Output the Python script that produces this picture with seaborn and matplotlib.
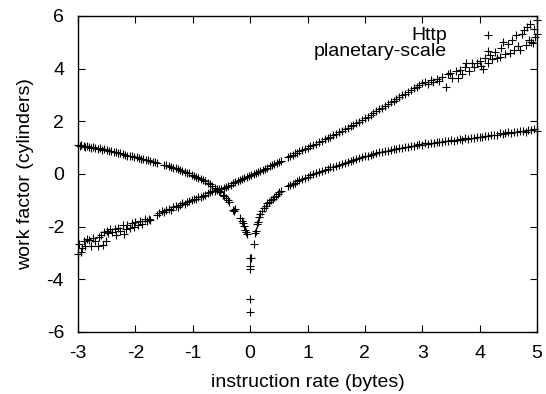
import matplotlib
matplotlib.use("Agg")
import matplotlib.pyplot as plt
import seaborn as sns
import pandas as pd

# ---- data ----
http_x = [-3.00, -2.98, -2.95, -2.93, -2.90, -2.87, -2.84, -2.80, -2.78, -2.74,
          -2.70, -2.66, -2.63, -2.60, -2.57, -2.54, -2.52, -2.50, -2.47, -2.44,
          -2.40, -2.36, -2.33, -2.30, -2.26, -2.22, -2.20, -2.17, -2.14, -2.10,
          -2.06, -2.03, -2.00, -1.96, -1.92, -1.88, -1.84, -1.80, -1.77, -1.74,
          -1.62, -1.58, -1.54, -1.50, -1.46, -1.42, -1.38, -1.34, -1.30, -1.26,
          -1.22, -1.18, -1.14, -1.10, -1.06, -1.02, -0.98, -0.94, -0.90, -0.86,
          -0.82, -0.78, -0.74, -0.70, -0.66, -0.62, -0.58, -0.54, -0.50, -0.46,
          -0.42, -0.38, -0.34, -0.30, -0.26, -0.22, -0.18, -0.14, -0.10, -0.06,
          -0.02, 0.02, 0.06, 0.10, 0.14, 0.18, 0.22, 0.26, 0.30, 0.34,
          0.38, 0.42, 0.46, 0.50, 0.54,
          0.66, 0.70, 0.74, 0.78, 0.82, 0.86, 0.90, 0.95, 1.00, 1.05,
          1.10, 1.15, 1.20, 1.25, 1.30, 1.35, 1.40, 1.45, 1.50, 1.55,
          1.60, 1.65, 1.70, 1.75, 1.80, 1.85, 1.90, 1.95, 2.00, 2.05,
          2.10, 2.15, 2.20, 2.25, 2.30, 2.35, 2.40, 2.45, 2.50, 2.55,
          2.60, 2.65, 2.70, 2.75, 2.80, 2.85, 2.90, 2.95, 3.00,
          3.05, 3.10, 3.15, 3.19, 3.25, 3.30, 3.35, 3.42, 3.45, 3.48,
          3.52, 3.58, 3.63, 3.66, 3.70, 3.74, 3.77, 3.82, 3.86, 3.90,
          3.95, 4.00, 4.03, 4.06, 4.10, 4.15, 4.18, 4.22, 4.26, 4.30,
          4.35, 4.38, 4.41, 4.45, 4.50, 4.53, 4.57, 4.60, 4.64, 4.67,
          4.70, 4.74, 4.78, 4.80, 4.82, 4.86, 4.88, 4.90, 4.93, 4.95,
          4.97, 5.00, 5.00]
http_y = [-3.05, -2.65, -2.95, -2.80, -2.55, -2.75, -2.45, -2.50, -2.75, -2.42,
          -2.55, -2.72, -2.40, -2.30, -2.68, -2.22, -2.55, -2.15, -2.25, -2.10,
          -2.20, -2.08, -2.30, -2.05, -2.15, -1.95, -2.28, -2.10, -1.92, -2.05,
          -1.85, -2.00, -1.82, -1.95, -1.78, -1.88, -1.72, -1.80, -1.70, -1.75,
          -1.55, -1.48, -1.42, -1.45, -1.38, -1.32, -1.36, -1.27, -1.22, -1.24,
          -1.16, -1.12, -1.14, -1.05, -1.02, -1.00, -0.95, -0.96, -0.88, -0.86,
          -0.82, -0.78, -0.72, -0.70, -0.66, -0.63, -0.60, -0.58, -0.56, -0.52,
          -0.48, -0.44, -0.40, -0.36, -0.32, -0.28, -0.23, -0.19, -0.15, -0.12,
          -0.08, -0.04, 0.00, 0.04, 0.08, 0.12, 0.16, 0.20, 0.24, 0.29,
          0.33, 0.37, 0.42, 0.45, 0.49,
          0.65, 0.68, 0.72, 0.78, 0.80, 0.86, 0.90, 0.95, 1.00, 1.05,
          1.12, 1.15, 1.22, 1.26, 1.32, 1.36, 1.42, 1.48, 1.52, 1.60,
          1.62, 1.70, 1.74, 1.82, 1.85, 1.93, 1.98, 2.05, 2.12, 2.18,
          2.25, 2.30, 2.38, 2.45, 2.52, 2.58, 2.65, 2.72, 2.78, 2.85,
          2.92, 3.00, 3.05, 3.12, 3.18, 3.25, 3.32, 3.38, 3.45,
          3.50, 3.40, 3.58, 3.50, 3.62, 3.55, 3.70, 3.32, 3.78, 3.82,
          3.65, 3.90, 3.63, 3.95, 3.80, 4.05, 4.20, 3.92, 4.20, 4.05,
          4.20, 4.30, 4.10, 4.00, 4.40, 4.20, 4.52, 4.35, 4.62, 4.40,
          4.45, 4.80, 5.02, 4.55, 4.95, 4.58, 5.10, 4.70, 5.28, 4.85,
          4.71, 5.30, 5.45, 4.90, 5.59, 5.10, 5.70, 5.03, 4.97, 5.50,
          5.20, 5.85, 5.30]

planetary_x = [-3.00, -2.97, -2.94, -2.90, -2.87, -2.84, -2.80, -2.77, -2.74, -2.70,
               -2.66, -2.62, -2.58, -2.54, -2.50, -2.46, -2.42, -2.38, -2.34, -2.30,
               -2.26, -2.22, -2.18, -2.14, -2.10, -2.06, -2.02, -1.98, -1.94, -1.90,
               -1.86, -1.82, -1.78, -1.74, -1.70, -1.66, -1.62,
               -1.50, -1.46, -1.42, -1.38, -1.34, -1.30, -1.26, -1.22, -1.18, -1.14,
               -1.10, -1.06, -1.02, -0.98, -0.94, -0.90, -0.86, -0.82, -0.78, -0.74,
               -0.70, -0.66, -0.62, -0.58, -0.55, -0.52, -0.48, -0.45, -0.42, -0.38,
               -0.36, -0.30, -0.28, -0.26, -0.17, -0.15, -0.13, -0.11, -0.09, -0.07,
               -0.05, 0.00, 0.02, -0.01, -0.01, 0.00, 0.00,
               0.07, 0.09, 0.10, 0.12, 0.13, 0.16, 0.18, 0.21, 0.24, 0.27,
               0.30, 0.33, 0.36, 0.39, 0.42, 0.45, 0.48, 0.51, 0.54,
               0.66, 0.70, 0.74, 0.78, 0.82, 0.86, 0.90, 0.95, 1.00, 1.05,
               1.10, 1.15, 1.20, 1.25, 1.30, 1.35, 1.40, 1.45, 1.50, 1.55,
               1.60, 1.65, 1.70, 1.75, 1.80, 1.85, 1.90, 1.95, 2.00, 2.05,
               2.10, 2.15, 2.20, 2.25, 2.30, 2.35, 2.40, 2.45, 2.50, 2.55,
               2.60, 2.65, 2.70, 2.75, 2.80, 2.85, 2.90, 2.95, 3.00, 3.05,
               3.10, 3.15, 3.20, 3.25, 3.30, 3.35, 3.40, 3.45, 3.50, 3.55,
               3.60, 3.65, 3.70, 3.75, 3.80, 3.85, 3.90, 3.95, 4.00, 4.05,
               4.10, 4.15, 4.20, 4.25, 4.30, 4.35, 4.40, 4.45, 4.50, 4.55,
               4.60, 4.65, 4.70, 4.75, 4.80, 4.85, 4.90, 4.95, 5.00]
planetary_y = [1.10, 1.05, 1.12, 1.06, 1.02, 1.08, 1.03, 0.98, 1.04, 0.99,
               0.95, 0.97, 0.92, 0.95, 0.90, 0.86, 0.89, 0.84, 0.82, 0.80,
               0.78, 0.75, 0.74, 0.70, 0.68, 0.67, 0.64, 0.63, 0.60, 0.58,
               0.57, 0.54, 0.52, 0.50, 0.47, 0.45, 0.42,
               0.36, 0.33, 0.30, 0.27, 0.24, 0.21, 0.18, 0.15, 0.12, 0.09,
               0.05, 0.02, -0.02, -0.06, -0.10, -0.14, -0.18, -0.23, -0.28, -0.33,
               -0.39, -0.45, -0.52, -0.58, -0.63, -0.70, -0.78, -0.85, -0.92, -1.00,
               -1.05, -1.35, -1.40, -1.33, -1.68, -1.78, -1.85, -1.98, -2.12, -2.22,
               -2.28, -3.20, -3.20, -3.50, -3.60, -4.76, -5.23,
               -2.66, -2.25, -2.15, -1.90, -1.82, -1.62, -1.52, -1.40, -1.28, -1.20,
               -1.12, -1.06, -1.00, -0.94, -0.88, -0.82, -0.76, -0.70, -0.65,
               -0.46, -0.41, -0.37, -0.33, -0.28, -0.24, -0.20, -0.14, -0.10, -0.04,
               0.00, 0.04, 0.08, 0.12, 0.17, 0.20, 0.25, 0.28, 0.32, 0.35,
               0.39, 0.42, 0.46, 0.49, 0.53, 0.56, 0.60, 0.63, 0.68, 0.70,
               0.74, 0.76, 0.78, 0.82, 0.84, 0.86, 0.89, 0.91, 0.94, 0.96,
               0.97, 1.00, 1.02, 1.04, 1.06, 1.08, 1.10, 1.13, 1.12, 1.16,
               1.15, 1.18, 1.17, 1.20, 1.22, 1.21, 1.25, 1.24, 1.28, 1.27,
               1.30, 1.32, 1.31, 1.35, 1.34, 1.38, 1.37, 1.40, 1.42, 1.41,
               1.45, 1.44, 1.48, 1.50, 1.49, 1.54, 1.52, 1.56, 1.58, 1.55,
               1.60, 1.58, 1.62, 1.64, 1.60, 1.68, 1.66, 1.70, 1.64]

series_names = ["Http", "planetary-scale"]
x_ticks = [-3, -2, -1, 0, 1, 2, 3, 4, 5]
y_ticks = [-6, -4, -2, 0, 2, 4, 6]

df = pd.concat([
    pd.DataFrame({"x": http_x, "y": http_y, "series": series_names[0]}),
    pd.DataFrame({"x": planetary_x, "y": planetary_y, "series": series_names[1]}),
], ignore_index=True)

sns.set_style("ticks")
plt.rcParams["font.family"] = ["Liberation Sans", "DejaVu Sans"]
plt.rcParams["text.color"] = "black"
plt.rcParams["axes.labelcolor"] = "black"

FS = 14

fig = plt.figure(figsize=(5.46, 3.94), dpi=100)
ax = fig.add_axes([78 / 546, 62 / 394, 459 / 546, 316 / 394])

for name in series_names:
    sub = df[df["series"] == name]
    sns.scatterplot(data=sub, x="x", y="y", ax=ax, marker="+", color="black",
                    s=28, linewidth=0.8, label=name, clip_on=False)

ax.set_xlim(-3, 5)
ax.set_ylim(-6, 6)
ax.set_xticks(x_ticks)
ax.set_yticks(y_ticks)
ax.set_xticklabels([str(t) for t in x_ticks])
ax.set_yticklabels([str(t) for t in y_ticks])
ax.tick_params(direction="in", top=True, right=True, length=5, width=0.8,
               labelsize=FS, colors="black")
ax.tick_params(axis="x", pad=9)
ax.tick_params(axis="y", pad=10)
for sp in ax.spines.values():
    sp.set_visible(True)
    sp.set_linewidth(1.0)
    sp.set_color("black")

ax.set_xlabel("instruction rate (bytes)", fontsize=FS, labelpad=9)
ax.set_ylabel("work factor (cylinders)", fontsize=FS, labelpad=9)

ax.legend(loc="upper right", bbox_to_anchor=(0.935, 0.966), frameon=False,
          markerfirst=False, fontsize=FS, borderpad=0, borderaxespad=0,
          handlelength=2.0, handletextpad=1.1, labelspacing=-0.1,
          scatterpoints=1)

fig.savefig("out.png", dpi=100)
